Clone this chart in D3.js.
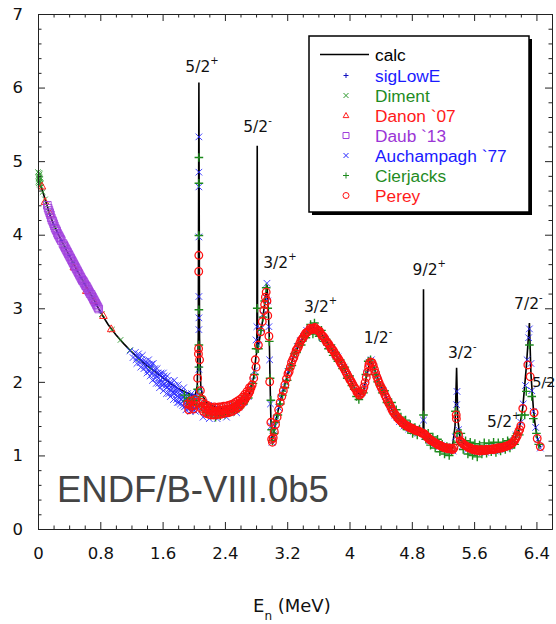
<!DOCTYPE html>
<html><head><meta charset="utf-8">
<script src="https://cdn.jsdelivr.net/npm/d3@7"></script>
<style>body{margin:0;background:#fff}svg{display:block}</style>
</head><body>
<svg id="c" width="556" height="624"></svg>
<script>
// ---------------- data ----------------
const xTickVals=[0,0.8,1.6,2.4,3.2,4,4.8,5.6,6.4];
const xTickLabels=["0","0.8","1.6","2.4","3.2","4","4.8","5.6","6.4"];
const yTickVals=[0,1,2,3,4,5,6,7];
const legendNames=["calc","sigLowE","Diment","Danon `07","Daub `13","Auchampagh `77","Cierjacks","Perey"];

const calc=[[0,4.78],[0.05,4.62],[0.1,4.45],[0.15,4.28],[0.2,4.14],[0.3,3.92],[0.4,3.72],[0.5,3.52],[0.6,3.33],[0.7,3.15],[0.8,2.95],[0.9,2.78],[1.0,2.64],[1.1,2.52],[1.2,2.41],[1.3,2.31],[1.4,2.22],[1.5,2.14],[1.6,2.06],[1.7,1.98],[1.8,1.91],[1.9,1.86],[1.98,1.82],[2.02,1.82],[2.045,1.95],[2.058,2.6],[2.066,6.07],[2.074,2.6],[2.09,1.95],[2.11,1.82],[2.16,1.72],[2.22,1.68],[2.30,1.65],[2.40,1.63],[2.50,1.64],[2.60,1.70],[2.68,1.78],[2.73,1.88],[2.77,2.07],[2.80,2.36],[2.81,2.4],[2.815,5.21],[2.82,2.45],[2.84,2.55],[2.88,2.80],[2.90,2.98],[2.92,3.12],[2.94,3.32],[2.955,3.05],[2.97,2.6],[2.98,2.0],[2.99,1.5],[3.005,1.20],[3.03,1.32],[3.07,1.55],[3.12,1.78],[3.17,1.97],[3.22,2.15],[3.28,2.34],[3.35,2.50],[3.41,2.61],[3.47,2.70],[3.53,2.74],[3.58,2.73],[3.64,2.66],[3.72,2.53],[3.80,2.40],[3.89,2.26],[3.97,2.10],[4.04,1.97],[4.10,1.86],[4.14,1.82],[4.18,1.88],[4.22,2.08],[4.26,2.27],[4.30,2.25],[4.35,2.08],[4.44,1.86],[4.52,1.67],[4.60,1.53],[4.68,1.45],[4.76,1.39],[4.84,1.35],[4.92,1.31],[4.945,1.33],[4.95,3.26],[4.955,1.30],[5.00,1.24],[5.08,1.18],[5.18,1.13],[5.26,1.10],[5.32,1.10],[5.355,1.4],[5.375,2.19],[5.39,1.5],[5.42,1.22],[5.47,1.16],[5.55,1.11],[5.65,1.09],[5.75,1.08],[5.85,1.09],[5.95,1.10],[6.04,1.13],[6.12,1.22],[6.18,1.36],[6.225,1.65],[6.27,2.2],[6.31,2.80],[6.33,2.10],[6.36,1.65],[6.38,1.45],[6.41,1.24],[6.45,1.11]];

const sigLowE=[[0.15,4.28],[0.2,4.14],[0.25,4.03],[0.3,3.92],[0.35,3.82],[0.4,3.72],[0.45,3.62],[0.5,3.52],[0.55,3.42],[0.6,3.33],[0.65,3.24],[0.7,3.15],[0.75,3.05],[0.8,2.95]];

const diment=[[0.0,4.85],[0.005,4.72],[0.01,4.80],[0.012,4.70],[0.015,4.78],[0.02,4.74],[0.022,4.82],[0.025,4.68],[0.03,4.76],[0.035,4.70],[0.04,4.65],[0.008,4.76],[0.018,4.84],[0.028,4.72],[0.06,4.58],[0.09,4.48],[0.11,4.40],[0.14,4.31],[0.22,4.10],[0.33,3.86],[0.45,3.62],[0.58,3.37],[0.70,3.15],[0.82,2.92],[0.95,2.71],[1.06,2.57],[1.18,2.43],[1.30,2.31],[1.45,2.18]];

const danon=[[0.05,4.66],[0.09,4.45],[0.16,4.28],[0.46,3.56],[0.62,3.24],[0.72,3.10],[0.84,2.90],[0.94,2.72]];

const daub=[[0.12,4.40],[0.13,4.36],[0.14,4.33],[0.15,4.30],[0.16,4.27],[0.17,4.23],[0.18,4.20],[0.19,4.18],[0.20,4.15],[0.21,4.12],[0.22,4.09],[0.23,4.07],[0.24,4.05],[0.25,4.02],[0.26,4.00],[0.27,3.98],[0.28,3.96],[0.29,3.94],[0.30,3.92],[0.32,3.88],[0.33,3.86],[0.34,3.84],[0.35,3.82],[0.36,3.80],[0.37,3.78],[0.38,3.76],[0.39,3.74],[0.40,3.72],[0.41,3.70],[0.42,3.68],[0.43,3.66],[0.44,3.64],[0.45,3.62],[0.46,3.60],[0.47,3.58],[0.48,3.56],[0.49,3.54],[0.50,3.52],[0.51,3.50],[0.52,3.48],[0.53,3.46],[0.54,3.44],[0.55,3.42],[0.56,3.40],[0.57,3.38],[0.58,3.37],[0.59,3.35],[0.60,3.33],[0.61,3.31],[0.62,3.30],[0.63,3.28],[0.64,3.26],[0.65,3.24],[0.66,3.22],[0.67,3.20],[0.68,3.19],[0.69,3.17],[0.70,3.15],[0.71,3.13],[0.72,3.11],[0.73,3.09],[0.74,3.07],[0.75,3.05],[0.76,3.03],[0.77,3.01],[0.78,2.99]];

const auchampagh=[[1.18,2.42],[1.22,2.33],[1.25,2.40],[1.27,2.25],[1.30,2.33],[1.32,2.20],[1.34,2.36],[1.36,2.18],[1.38,2.28],[1.40,2.12],[1.42,2.30],[1.44,2.08],[1.45,2.20],[1.47,2.02],[1.48,2.25],[1.50,2.10],[1.52,1.98],[1.53,2.18],[1.55,2.05],[1.56,1.92],[1.58,2.12],[1.59,1.98],[1.61,1.88],[1.62,2.08],[1.64,1.95],[1.65,1.84],[1.67,2.02],[1.68,1.90],[1.70,1.80],[1.71,1.98],[1.73,1.86],[1.74,1.76],[1.76,1.95],[1.77,1.82],[1.79,1.72],[1.80,1.90],[1.82,1.78],[1.83,1.70],[1.85,1.86],[1.86,1.74],[1.88,1.66],[1.89,1.82],[1.91,1.72],[1.93,1.64],[1.94,1.80],[1.96,1.70],[1.98,1.62],[1.99,1.78],[2.01,1.68],[2.03,1.76],[2.05,1.85],
[1.26,2.30],[1.29,2.38],[1.31,2.26],[1.35,2.28],[1.37,2.22],[1.39,2.20],[1.41,2.16],[1.43,2.24],[1.46,2.12],[1.49,2.15],[1.51,2.05],[1.54,2.12],[1.57,2.02],[1.60,2.05],[1.63,1.98],[1.66,1.93],[1.69,1.95],[1.72,1.90],[1.75,1.84],[1.78,1.86],[1.81,1.82],[1.84,1.76],[1.87,1.80],[1.90,1.68],[1.92,1.78],[1.95,1.64],[1.97,1.74],[2.00,1.62],[2.02,1.80],[2.04,1.66],
[1.28,2.34],[1.33,2.30],[1.40,2.25],[1.43,2.14],[1.46,2.24],[1.50,2.18],[1.52,2.08],[1.55,1.98],[1.57,2.10],[1.60,1.95],[1.61,2.12],[1.63,2.04],[1.65,1.92],[1.66,2.08],[1.68,1.84],[1.70,2.00],[1.72,1.94],[1.74,1.86],[1.75,2.02],[1.77,1.90],[1.78,1.76],[1.80,1.96],[1.81,1.72],[1.83,1.88],[1.84,1.82],[1.86,1.68],[1.87,1.92],[1.89,1.76],[1.90,1.62],[1.92,1.84],[1.93,1.70],[1.95,1.78],[1.96,1.60],[1.97,1.84],[1.99,1.66],[2.00,1.72],[2.02,1.60],[2.03,1.66],[2.04,1.80],
[2.12,1.52],[2.20,1.50],[2.30,1.50],[2.42,1.52],[2.55,1.58],
[2.066,2.17],[2.066,2.71],[2.066,2.87],[2.066,3.16],[2.066,3.97],[2.066,4.65],[2.066,4.85],[2.066,5.33],
[2.08,1.90],[2.10,1.62],[2.13,1.72],[2.16,1.60],[2.19,1.68],[2.22,1.57],[2.25,1.66],[2.28,1.58],[2.31,1.65],[2.34,1.56],[2.37,1.64],[2.40,1.58],[2.43,1.66],[2.46,1.60],[2.49,1.68],[2.52,1.62],[2.55,1.72],[2.58,1.66],[2.61,1.76],[2.64,1.72],[2.67,1.82],[2.70,1.80],[2.73,1.92],[2.76,2.02],[2.78,2.15],[2.80,2.57],[2.81,2.75],[2.83,2.50],[2.86,2.72],[2.89,2.92],[2.92,3.15],[2.94,3.34],[2.95,3.10],[2.965,2.75],[2.975,2.30],[2.985,1.70],[2.995,1.40],[3.005,1.18],[3.02,1.28],[3.04,1.40],[3.06,1.50],[3.09,1.65],[3.12,1.78],[3.15,1.90],[3.18,2.00],[3.21,2.14],[3.25,2.25],[3.29,2.36],[3.33,2.48],[3.37,2.56],[3.41,2.62],[3.45,2.70],[3.49,2.72],[3.53,2.76],[3.57,2.70],[3.61,2.68],[3.65,2.60],[3.69,2.58],[3.73,2.50],[3.77,2.46],[3.81,2.38],[3.85,2.34],[3.89,2.25],[3.93,2.20],[3.97,2.10],[4.01,2.04],[4.05,1.94],[4.09,1.88],[4.13,1.80],[4.16,1.86],[4.19,1.95],[4.22,2.12],[4.25,2.26],[4.28,2.30],[4.31,2.20],[4.34,2.10],[4.37,2.02],[4.40,1.93],[4.43,1.88],[4.46,1.80],[4.49,1.75],[4.52,1.66],[4.55,1.62],[4.58,1.55],[4.61,1.52],[4.64,1.46],[4.67,1.46],[4.70,1.40],[4.73,1.42],[4.76,1.36],[4.79,1.38],[4.82,1.33],[4.85,1.36],[4.88,1.30],[4.91,1.33],[4.95,1.48],[4.97,1.26],[5.00,1.25],[5.03,1.20],[5.06,1.21],[5.09,1.15],[5.12,1.17],[5.15,1.12],[5.18,1.14],[5.21,1.09],[5.24,1.12],[5.27,1.07],[5.30,1.10],[5.33,1.06],[5.36,1.25],[5.375,1.69],[5.38,1.87],[5.40,1.35],[5.42,1.22],[5.45,1.13],[5.48,1.16],[5.51,1.08],[5.54,1.12],[5.57,1.05],[5.60,1.10],[5.63,1.04],[5.66,1.09],[5.69,1.05],[5.72,1.10],[5.75,1.04],[5.78,1.10],[5.81,1.06],[5.84,1.11],[5.87,1.06],[5.90,1.12],[5.93,1.08],[5.96,1.13],[5.99,1.10],[6.02,1.15],[6.05,1.12],[6.08,1.18],[6.11,1.20],[6.14,1.28],[6.17,1.32],[6.20,1.45],[6.23,1.70],[6.26,1.95],[6.28,2.30],[6.30,2.60],[6.31,2.72],[6.33,2.25],[6.34,1.88],[6.36,1.60],[6.39,1.38],[6.42,1.22],[6.45,1.10]];

const cierjacks=[[1.88,1.82],[1.91,1.74],[1.94,1.78],[1.97,1.69],[2.00,1.75],[2.03,1.70],[2.05,1.90],[2.066,2.20],[2.066,2.50],[2.066,2.98],[2.066,3.99],[2.066,4.70],[2.066,5.05],[2.08,1.80],[2.10,1.66],[2.13,1.70],[2.16,1.58],[2.19,1.65],[2.22,1.55],[2.25,1.63],[2.28,1.52],[2.31,1.60],[2.34,1.54],[2.37,1.66],[2.40,1.56],[2.43,1.62],[2.46,1.58],[2.49,1.68],[2.52,1.60],[2.55,1.70],[2.58,1.64],[2.61,1.75],[2.64,1.70],[2.67,1.82],[2.70,1.78],[2.73,1.90],[2.76,1.98],[2.78,2.10],[2.80,2.45],[2.815,3.0],[2.83,2.45],[2.86,2.70],[2.89,2.88],[2.91,3.10],[2.93,3.28],[2.95,3.00],[2.97,2.55],[2.98,2.05],[2.99,1.75],[3.00,1.35],[3.01,1.20],[3.03,1.30],[3.05,1.45],[3.08,1.55],[3.11,1.70],[3.14,1.82],[3.17,1.92],[3.20,2.02],[3.23,2.18],[3.26,2.22],[3.29,2.38],[3.32,2.40],[3.35,2.52],[3.38,2.50],[3.41,2.62],[3.44,2.60],[3.47,2.66],[3.50,2.78],[3.53,2.65],[3.55,2.80],[3.58,2.68],[3.61,2.62],[3.64,2.70],[3.67,2.55],[3.70,2.58],[3.73,2.45],[3.76,2.50],[3.79,2.36],[3.82,2.40],[3.85,2.28],[3.88,2.30],[3.91,2.18],[3.94,2.20],[3.97,2.05],[4.00,2.08],[4.03,1.95],[4.06,1.90],[4.09,1.80],[4.12,1.76],[4.15,1.88],[4.18,1.85],[4.21,2.10],[4.24,2.28],[4.27,2.30],[4.30,2.20],[4.33,2.10],[4.36,2.00],[4.39,1.95],[4.42,1.85],[4.45,1.88],[4.48,1.72],[4.51,1.68],[4.54,1.72],[4.57,1.56],[4.60,1.62],[4.63,1.48],[4.66,1.52],[4.69,1.40],[4.72,1.48],[4.75,1.35],[4.78,1.42],[4.81,1.30],[4.84,1.38],[4.87,1.28],[4.90,1.36],[4.95,1.55],[4.98,1.22],[5.01,1.30],[5.04,1.14],[5.07,1.25],[5.10,1.10],[5.13,1.22],[5.16,1.05],[5.19,1.15],[5.22,1.02],[5.25,1.12],[5.28,1.00],[5.31,1.06],[5.34,1.15],[5.36,1.60],[5.38,1.30],[5.40,1.18],[5.43,1.30],[5.46,1.08],[5.49,1.20],[5.52,1.02],[5.55,1.18],[5.58,1.00],[5.61,1.16],[5.64,0.98],[5.67,1.14],[5.70,1.02],[5.73,1.17],[5.76,1.03],[5.79,1.16],[5.82,1.05],[5.85,1.18],[5.88,1.04],[5.91,1.17],[5.94,1.06],[5.97,1.18],[6.00,1.08],[6.03,1.20],[6.06,1.10],[6.09,1.22],[6.12,1.15],[6.15,1.30],[6.18,1.28],[6.21,1.55],[6.25,1.55],[6.27,1.87],[6.31,2.50],[6.34,1.80],[6.36,1.50],[6.40,1.30],[6.43,1.15]];

const perey=[[1.92,1.70],[1.95,1.68],[1.98,1.67],[2.01,1.68],[2.03,1.72],[2.05,2.05],[2.06,2.38],[2.062,2.45],[2.064,3.50],[2.065,3.72],[2.075,2.30],[2.085,1.88],[2.10,1.72],[2.12,1.67],[2.15,1.64],[2.18,1.62],[2.21,1.61],[2.24,1.60],[2.27,1.60],[2.30,1.60],[2.33,1.61],[2.36,1.61],[2.39,1.62],[2.42,1.62],[2.45,1.63],[2.48,1.64],[2.51,1.65],[2.54,1.67],[2.57,1.69],[2.60,1.71],[2.63,1.74],[2.66,1.78],[2.69,1.82],[2.72,1.87],[2.75,1.96],[2.77,2.05],[2.79,2.30],[2.80,2.20],[2.83,2.50],[2.86,2.68],[2.88,2.82],[2.90,2.97],[2.91,3.05],[2.92,3.15],[2.93,3.22],[2.94,3.10],[2.95,2.90],[2.965,2.62],[2.975,2.0],[2.99,1.45],[3.00,1.22],[3.01,1.18],[3.02,1.24],[3.035,1.32],[3.05,1.42],[3.07,1.52],[3.09,1.62],[3.11,1.72],[3.13,1.80],[3.15,1.88],[3.17,1.96],[3.19,2.04],[3.21,2.11],[3.24,2.20],[3.27,2.30],[3.30,2.38],[3.33,2.45],[3.36,2.52],[3.39,2.58],[3.42,2.63],[3.45,2.67],[3.48,2.70],[3.51,2.72],[3.54,2.73],[3.57,2.72],[3.60,2.70],[3.63,2.66],[3.66,2.62],[3.69,2.57],[3.72,2.53],[3.75,2.48],[3.78,2.44],[3.81,2.39],[3.84,2.34],[3.87,2.29],[3.90,2.24],[3.93,2.18],[3.96,2.12],[3.99,2.06],[4.02,2.01],[4.05,1.95],[4.08,1.90],[4.11,1.85],[4.14,1.83],[4.17,1.88],[4.20,1.99],[4.23,2.13],[4.25,2.24],[4.27,2.27],[4.29,2.26],[4.32,2.17],[4.35,2.07],[4.38,1.99],[4.41,1.92],[4.44,1.86],[4.47,1.79],[4.50,1.72],[4.53,1.66],[4.56,1.60],[4.59,1.55],[4.62,1.51],[4.65,1.48],[4.68,1.45],[4.71,1.42],[4.74,1.40],[4.77,1.38],[4.80,1.37],[4.83,1.35],[4.86,1.34],[4.89,1.33],[4.92,1.31],[4.95,1.30],[4.98,1.27],[5.01,1.24],[5.04,1.21],[5.07,1.19],[5.10,1.17],[5.13,1.15],[5.16,1.14],[5.19,1.12],[5.22,1.11],[5.25,1.10],[5.28,1.10],[5.31,1.09],[5.34,1.10],[5.37,1.55],[5.372,1.50],[5.40,1.28],[5.42,1.20],[5.45,1.17],[5.48,1.14],[5.51,1.12],[5.54,1.10],[5.57,1.09],[5.60,1.08],[5.63,1.08],[5.66,1.07],[5.69,1.08],[5.72,1.07],[5.75,1.08],[5.78,1.08],[5.81,1.08],[5.84,1.09],[5.87,1.09],[5.90,1.10],[5.93,1.10],[5.96,1.11],[5.99,1.12],[6.02,1.13],[6.05,1.14],[6.08,1.16],[6.11,1.19],[6.14,1.24],[6.17,1.32],[6.20,1.40],[6.225,1.64],[6.29,2.23],[6.32,2.07],[6.37,1.58],[6.41,1.23],[6.45,1.12]];

const pereyDense=[[1.935,1.62],[1.965,1.74],[1.995,1.63],[2.015,1.76],[2.095,1.64],[2.11,1.76],[2.125,1.60],[2.14,1.70],[2.165,1.57],[2.175,1.68],[2.195,1.56],[2.205,1.66],[2.225,1.55],[2.235,1.65],[2.255,1.55],[2.265,1.66],[2.285,1.55],[2.295,1.65],[2.315,1.56],[2.325,1.66],[2.345,1.56],[2.355,1.66],[2.375,1.57],[2.385,1.67],[2.405,1.58],[2.415,1.67],[2.435,1.58],[2.445,1.68],[2.465,1.59],[2.475,1.69],[2.495,1.60],[2.505,1.70],[2.525,1.62],[2.535,1.72],[2.555,1.64],[2.565,1.74],[2.585,1.66],[2.595,1.76],[2.615,1.70],[2.625,1.79],[2.645,1.74],[2.655,1.83],[2.675,1.79],[2.685,1.87],[2.705,1.84],[2.715,1.92],[2.735,1.92],[3.225,2.14],[3.255,2.26],[3.285,2.33],[3.315,2.43],[3.345,2.48],[3.375,2.56],[3.405,2.60],[3.435,2.66],[3.465,2.68],[3.495,2.73],[3.525,2.71],[3.555,2.74],[3.585,2.70],[3.615,2.69],[3.645,2.63],[3.675,2.60],[3.705,2.54],[3.735,2.51],[3.765,2.45],[3.795,2.42],[3.825,2.36],[3.855,2.32],[3.885,2.26],[3.915,2.21],[3.945,2.15],[3.975,2.09],[4.005,2.03],[4.035,1.98],[4.065,1.92],[4.095,1.86],[4.125,1.82],[4.155,1.85],[4.185,1.93],[4.215,2.06],[4.245,2.20],[4.305,2.22],[4.335,2.12],[4.365,2.03],[4.395,1.95],[4.425,1.89],[4.455,1.82],[4.485,1.75],[4.515,1.69],[4.545,1.62],[4.575,1.57],[4.605,1.53],[4.635,1.49],[4.665,1.46],[4.695,1.43],[4.725,1.41],[4.755,1.39],[4.785,1.37],[4.815,1.36],[4.845,1.34],[4.875,1.33],[4.905,1.32],[4.935,1.30],[4.965,1.29],[4.995,1.25],[5.025,1.22],[5.055,1.20],[5.085,1.18],[5.115,1.16],[5.145,1.14],[5.175,1.13],[5.205,1.11],[5.235,1.10],[5.265,1.09],[5.295,1.09],[5.325,1.08],[5.435,1.18],[5.465,1.15],[5.495,1.13],[5.525,1.11],[5.555,1.10],[5.585,1.08],[5.615,1.07],[5.645,1.07],[5.675,1.06],[5.705,1.07],[5.735,1.07],[5.765,1.07],[5.795,1.08],[5.825,1.08],[5.855,1.08],[5.885,1.09],[5.915,1.10],[5.945,1.10],[5.975,1.11],[6.005,1.12],[6.035,1.13],[6.065,1.15],[6.095,1.17],[6.125,1.21],[6.155,1.27],[6.185,1.35]];

// resonance labels: text, sign, E (left edge), sigma (baseline)
const resText=["5/2","5/2","3/2","3/2","1/2","9/2","3/2","5/2","7/2","5/2"];
const resSign=["+","-","+","+","-","+","-","+","-",""];
const resE=[1.892,2.635,2.892,3.414,4.183,4.81,5.264,5.766,6.113,6.345];
const resS=[6.213,5.398,3.546,2.948,2.527,3.451,2.327,1.386,2.989,1.933];

// ---------------- drawing ----------------
const svg=d3.select("#c");
const x=d3.scaleLinear().domain([0,6.6]).range([38,552]);
const y=d3.scaleLinear().domain([0,7]).range([529,14]);

const tickFont="'DejaVu Sans', sans-serif";
const legFont="'Liberation Sans', Arial, sans-serif";

const plusT={draw(c,r){c.moveTo(-r,0);c.lineTo(r,0);c.moveTo(0,-r);c.lineTo(0,r);}};
const timesT={draw(c,r){c.moveTo(-r,-r);c.lineTo(r,r);c.moveTo(-r,r);c.lineTo(r,-r);}};
const circT={draw(c,r){c.moveTo(r,0);c.arc(0,0,r,0,2*Math.PI);}};
const sqT={draw(c,r){c.rect(-r,-r,2*r,2*r);}};
const triT={draw(c,r){c.moveTo(0,-r);c.lineTo(r*0.95,r*0.7);c.lineTo(-r*0.95,r*0.7);c.closePath();}};

svg.append("path").datum(calc)
  .attr("d",d3.line().x(d=>x(d[0])).y(d=>y(d[1])))
  .attr("fill","none").attr("stroke","#000").attr("stroke-width",1.6);

const series=[
  {data:sigLowE,type:plusT,r:2,color:"#1010c0",sw:1,legR:2.5,tcol:"#1a1aff"},
  {data:diment,type:timesT,r:2.8,color:"#2e9a2e",sw:0.9,legR:2.5,tcol:"#1f8c1f"},
  {data:danon,type:triT,r:4,color:"#ff2020",sw:1,legR:3,tcol:"#ff1a1a"},
  {data:daub,type:sqT,r:3.8,color:"#a040dc",sw:0.9,legR:3,tcol:"#9b35d6"},
  {data:auchampagh,type:timesT,r:3.3,color:"#2828ff",sw:0.85,legR:2.5,tcol:"#1a1aff"},
  {data:cierjacks,type:plusT,r:4.3,color:"#1c8a1c",sw:1.4,legR:3,tcol:"#1f8c1f"},
  {data:perey.concat(pereyDense),type:circT,r:3.8,color:"#ff1010",sw:1.3,legR:3,tcol:"#ff1a1a"}
];

series.forEach(s=>{
  const sym=d3.symbol().type(s.type).size(s.r);
  svg.append("g").selectAll("path").data(s.data).join("path")
    .attr("transform",d=>`translate(${x(d[0])},${y(d[1])})`)
    .attr("d",sym()).attr("fill","none").attr("stroke",s.color).attr("stroke-width",s.sw);
});

function styleAxis(g){g.selectAll("line").attr("stroke","#222");g.select(".domain").attr("stroke","#222");}
const minorX=d3.range(0,6.61,0.2).filter(v=>Math.abs(v/0.8-Math.round(v/0.8))>1e-6);
const minorY=d3.range(0,7.01,0.2).filter(v=>Math.abs(v-Math.round(v))>1e-6);

svg.append("g").attr("transform",`translate(0,${y(0)})`)
  .call(d3.axisBottom(x).tickValues(xTickVals).tickFormat((d,i)=>xTickLabels[i]).tickSizeInner(-7).tickSizeOuter(0).tickPadding(18)).call(styleAxis);
svg.append("g").attr("transform",`translate(0,${y(0)})`)
  .call(d3.axisBottom(x).tickValues(minorX).tickFormat("").tickSizeInner(-3.5).tickSizeOuter(0)).call(styleAxis);
svg.append("g").attr("transform",`translate(0,${y(7)})`)
  .call(d3.axisTop(x).tickValues(xTickVals).tickFormat("").tickSizeInner(-7).tickSizeOuter(0)).call(styleAxis);
svg.append("g").attr("transform",`translate(0,${y(7)})`)
  .call(d3.axisTop(x).tickValues(minorX).tickFormat("").tickSizeInner(-3.5).tickSizeOuter(0)).call(styleAxis);
svg.append("g").attr("transform",`translate(${x(0)},0)`)
  .call(d3.axisLeft(y).tickValues(yTickVals).tickFormat(d3.format("d")).tickSizeInner(-7).tickSizeOuter(0).tickPadding(15)).call(styleAxis);
svg.append("g").attr("transform",`translate(${x(0)},0)`)
  .call(d3.axisLeft(y).tickValues(minorY).tickFormat("").tickSizeInner(-3.5).tickSizeOuter(0)).call(styleAxis);
svg.append("g").attr("transform",`translate(${x(6.6)},0)`)
  .call(d3.axisRight(y).tickValues(yTickVals).tickFormat("").tickSizeInner(-7).tickSizeOuter(0)).call(styleAxis);
svg.append("g").attr("transform",`translate(${x(6.6)},0)`)
  .call(d3.axisRight(y).tickValues(minorY).tickFormat("").tickSizeInner(-3.5).tickSizeOuter(0)).call(styleAxis);

svg.selectAll(".tick text").attr("font-family",tickFont).attr("font-size",16.5).attr("fill","#111");

resText.forEach((t,i)=>{
  const last=i===resText.length-1;
  const tx=svg.append("text").attr("x",x(resE[i])).attr("y",y(resS[i]))
    .attr("font-family",tickFont).attr("font-size",last?14.5:15.5).attr("fill","#111").text(t);
  if(resSign[i]) tx.append("tspan").attr("dy",-8).attr("font-size",10).text(resSign[i]);
});

svg.append("text").attr("x",57).attr("y",502).attr("font-family",legFont)
  .attr("font-size",36.5).attr("fill","#444").text("ENDF/B-VIII.0b5");

const tt=svg.append("text").attr("x",253).attr("y",612).attr("font-family",tickFont).attr("font-size",18).attr("fill","#111");
tt.append("tspan").text("E");
tt.append("tspan").attr("font-size",12).attr("dy",8).text("n");
tt.append("tspan").attr("dy",-8).text(" (MeV)");

const lg=svg.append("g");
lg.append("rect").attr("x",312).attr("y",39).attr("width",220).attr("height",176).attr("fill","#000");
lg.append("rect").attr("x",309).attr("y",36).attr("width",220).attr("height",176).attr("fill","#fff").attr("stroke","#000").attr("stroke-width",1.5);
const rowY=i=>i===0?54.5:55.5+20*i;
lg.append("line").attr("x1",320).attr("x2",369).attr("y1",rowY(0)).attr("y2",rowY(0)).attr("stroke","#000").attr("stroke-width",1.5);
legendNames.forEach((n,i)=>{
  const col=i===0?"#000":series[i-1].tcol;
  lg.append("text").attr("x",375).attr("y",rowY(i)+6.3).attr("font-family",legFont).attr("font-size",17.3).attr("fill",col).text(n);
  if(i>0){
    const s=series[i-1];
    lg.append("path").attr("transform",`translate(346,${rowY(i)})`)
      .attr("d",d3.symbol().type(s.type).size(s.legR)()).attr("fill","none").attr("stroke",s.color).attr("stroke-width",1);
  }
});
</script>
</body></html>
